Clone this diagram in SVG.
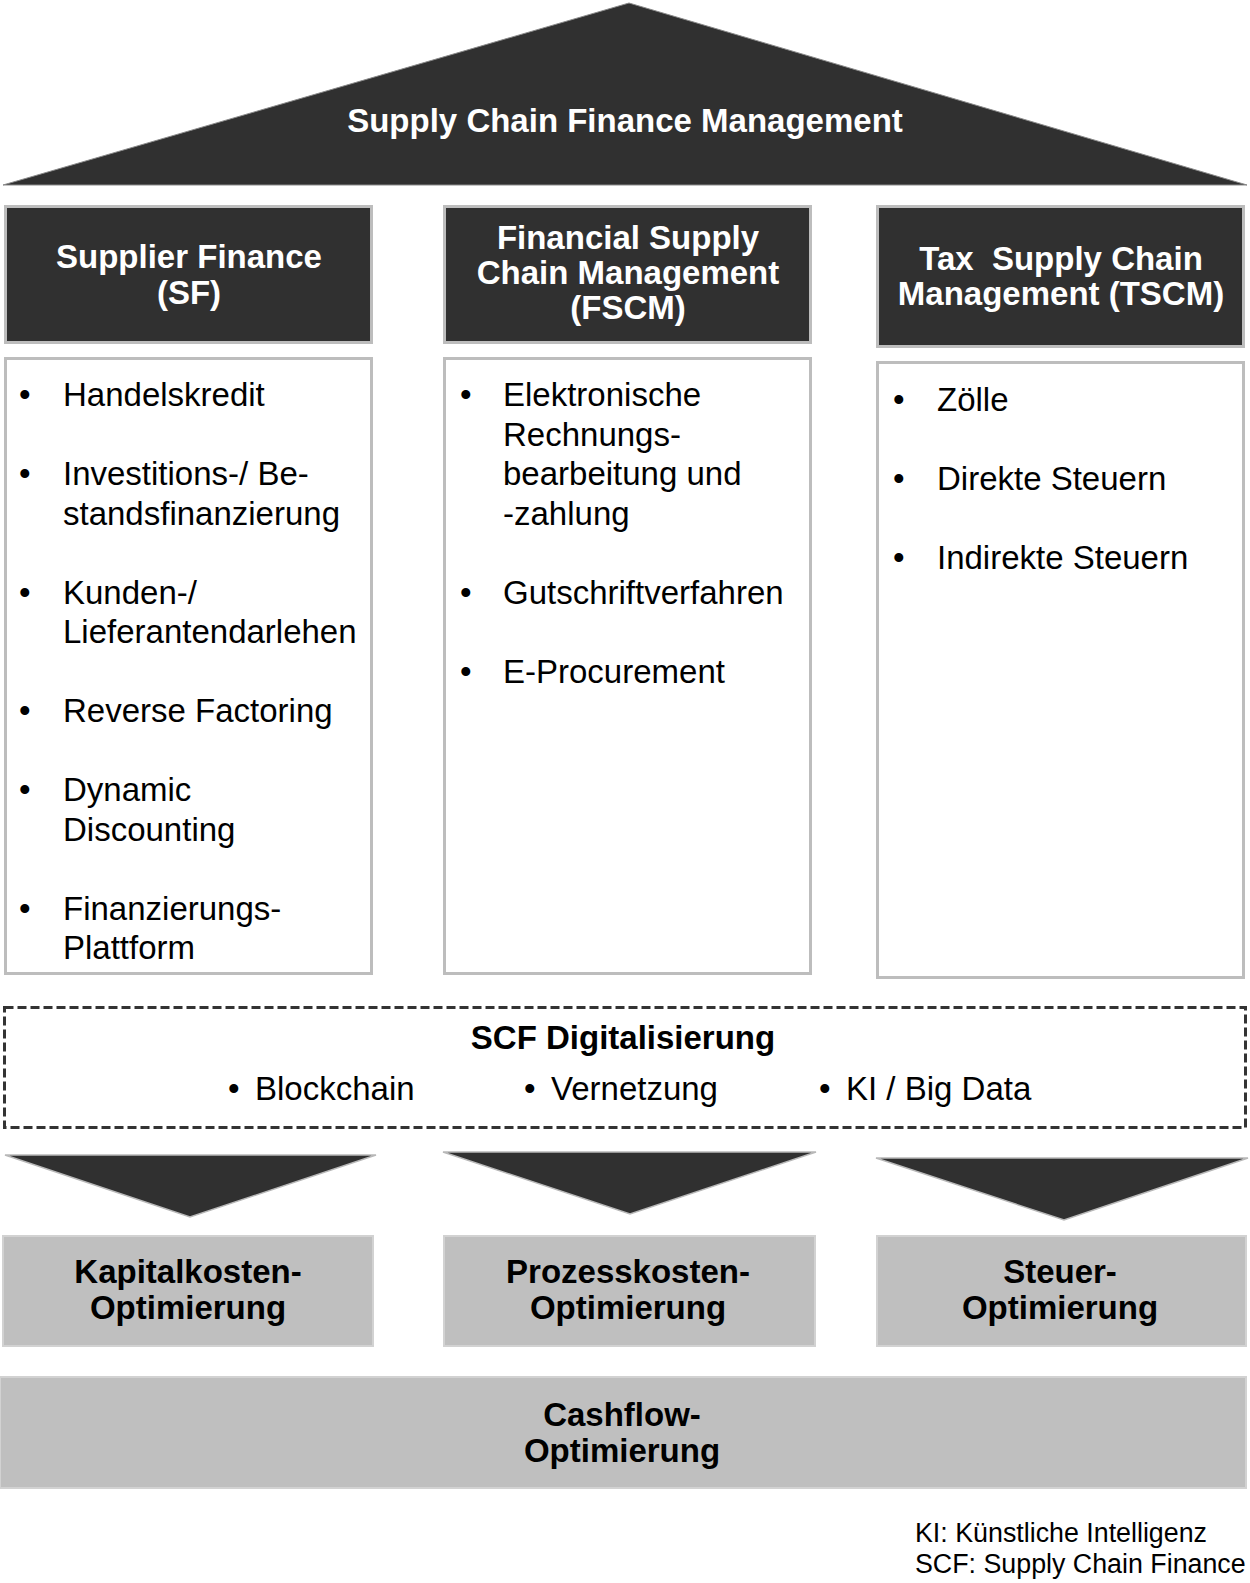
<svg xmlns="http://www.w3.org/2000/svg" width="1250" height="1583" viewBox="0 0 1250 1583">
<style>
.dark{fill:#303030}
.hdr{fill:#303030;stroke:#bdbdbd;stroke-width:3}
.box{fill:#ffffff;stroke:#bdbdbd;stroke-width:3}
.light{fill:#bfbfbf;stroke:#d2d2d2;stroke-width:2}
.arrow{fill:#303030;stroke:#b8b8b8;stroke-width:1.5}
text{font-family:"Liberation Sans",Arial,sans-serif;font-size:33px}
.b{font-weight:bold}
.w{fill:#ffffff}
.k{fill:#000000}
.c{text-anchor:middle}
.fn{font-size:26.8px}
</style>
<rect width="1250" height="1583" fill="#ffffff"/>
<g id="roof">
<polygon points="629,3 3,185 1247,185" class="dark" stroke="#8a8a8a" stroke-width="1"/>
<text x="625" y="132" class="b w c">Supply Chain Finance Management</text>
</g>
<g id="sf-header">
<rect x="5.5" y="206.5" width="366" height="136" class="hdr"/>
<text x="189" y="268" class="b w c">Supplier Finance</text>
<text x="189" y="304" class="b w c">(SF)</text>
</g>
<g id="fscm-header">
<rect x="444.5" y="206.5" width="366" height="136" class="hdr"/>
<text x="628" y="249" class="b w c">Financial Supply</text>
<text x="628" y="284" class="b w c">Chain Management</text>
<text x="628" y="319" class="b w c">(FSCM)</text>
</g>
<g id="tscm-header">
<rect x="877.5" y="206.5" width="366" height="140" class="hdr"/>
<text x="1061" y="270" class="b w c" style="white-space:pre" xml:space="preserve">Tax  Supply Chain</text>
<text x="1061" y="305" class="b w c">Management (TSCM)</text>
</g>
<g id="sf-list">
<rect x="5.5" y="358.5" width="366" height="615" class="box"/>
<g class="k">
<text x="19" y="406">•</text><text x="63" y="406">Handelskredit</text>
<text x="19" y="485">•</text><text x="63" y="485">Investitions-/ Be-</text>
<text x="63" y="524.5">standsfinanzierung</text>
<text x="19" y="603.5">•</text><text x="63" y="603.5">Kunden-/</text>
<text x="63" y="643">Lieferantendarlehen</text>
<text x="19" y="722">•</text><text x="63" y="722">Reverse Factoring</text>
<text x="19" y="801">•</text><text x="63" y="801">Dynamic</text>
<text x="63" y="840.5">Discounting</text>
<text x="19" y="919.5">•</text><text x="63" y="919.5">Finanzierungs-</text>
<text x="63" y="959">Plattform</text>
</g>
</g>
<g id="fscm-list">
<rect x="444.5" y="358.5" width="366" height="615" class="box"/>
<g class="k">
<text x="460" y="406">•</text><text x="503" y="406">Elektronische</text>
<text x="503" y="445.5">Rechnungs-</text>
<text x="503" y="485">bearbeitung und</text>
<text x="503" y="524.5">-zahlung</text>
<text x="460" y="603.5">•</text><text x="503" y="603.5">Gutschriftverfahren</text>
<text x="460" y="682.5">•</text><text x="503" y="682.5">E-Procurement</text>
</g>
</g>
<g id="tscm-list">
<rect x="877.5" y="362.5" width="366" height="615" class="box"/>
<g class="k">
<text x="893" y="411">•</text><text x="937" y="411">Zölle</text>
<text x="893" y="490">•</text><text x="937" y="490">Direkte Steuern</text>
<text x="893" y="569">•</text><text x="937" y="569">Indirekte Steuern</text>
</g>
</g>
<g id="digitalisierung">
<rect x="4.5" y="1007.5" width="1241" height="120" fill="none" stroke="#333333" stroke-width="3" stroke-dasharray="9,4"/>
<text x="623" y="1049" class="b k c">SCF Digitalisierung</text>
<text x="228" y="1100" class="k">•</text><text x="255" y="1100" class="k">Blockchain</text>
<text x="524" y="1100" class="k">•</text><text x="551" y="1100" class="k">Vernetzung</text>
<text x="819" y="1100" class="k">•</text><text x="846" y="1100" class="k">KI / Big Data</text>
</g>
<g id="connectors">
<polygon points="5,1155 376,1155 190,1217" class="arrow"/>
<polygon points="443,1152 816,1152 630,1214" class="arrow"/>
<polygon points="876,1158 1248,1158 1064,1220" class="arrow"/>
</g>
<g id="kapital">
<rect x="3" y="1236" width="370" height="110" class="light"/>
<text x="188" y="1283" class="b k c">Kapitalkosten-</text>
<text x="188" y="1319" class="b k c">Optimierung</text>
</g>
<g id="prozess">
<rect x="444" y="1236" width="371" height="110" class="light"/>
<text x="628" y="1283" class="b k c">Prozesskosten-</text>
<text x="628" y="1319" class="b k c">Optimierung</text>
</g>
<g id="steuer">
<rect x="877" y="1236" width="369" height="110" class="light"/>
<text x="1060" y="1283" class="b k c">Steuer-</text>
<text x="1060" y="1319" class="b k c">Optimierung</text>
</g>
<g id="cashflow">
<rect x="0" y="1377" width="1246" height="111" class="light"/>
<text x="622" y="1426" class="b k c">Cashflow-</text>
<text x="622" y="1462" class="b k c">Optimierung</text>
</g>
<g id="legend">
<text x="915" y="1542" class="fn k">KI: Künstliche Intelligenz</text>
<text x="915" y="1573" class="fn k">SCF: Supply Chain Finance</text>
</g>
</svg>
